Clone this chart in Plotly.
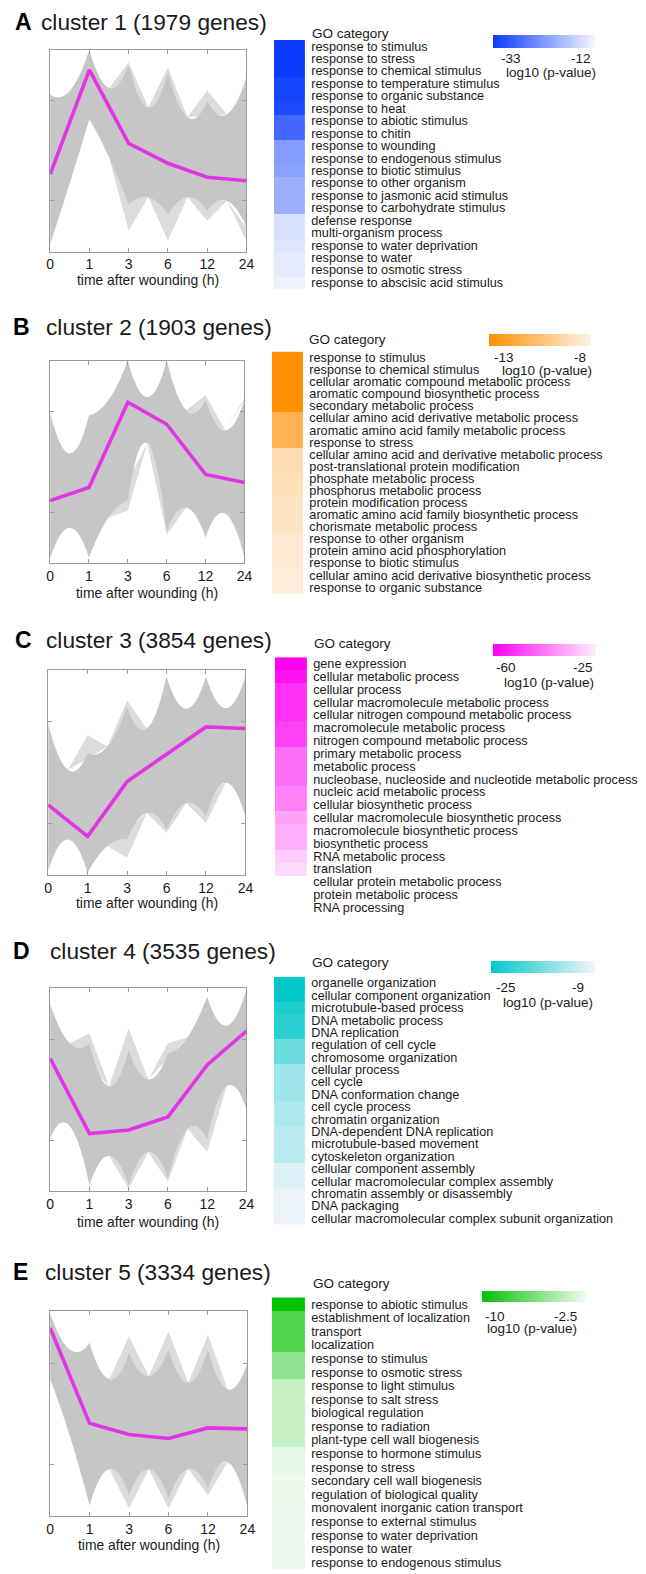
import plotly.graph_objects as go

W, H = 646, 1574
FONT = "Liberation Sans, Arial, Helvetica, sans-serif"

time_labels = ["0", "1", "3", "6", "12", "24"]

titles = ["cluster 1 (1979 genes)", "cluster 2 (1903 genes)", "cluster 3 (3854 genes)",
          "cluster 4 (3535 genes)", "cluster 5 (3334 genes)"]
letters = ["A", "B", "C", "D", "E"]

# mean expression profiles (magenta)
mean_1 = [-0.47, 1.62, 0.15, -0.25, -0.53, -0.60]
mean_2 = [-0.77, -0.51, 1.19, 0.75, -0.25, -0.41]
mean_3 = [-0.64, -1.26, -0.18, 0.36, 0.90, 0.87]
mean_4 = [0.62, -0.87, -0.80, -0.54, 0.49, 1.16]
mean_5 = [1.69, -0.19, -0.41, -0.49, -0.28, -0.30]

# dense envelope of gene profiles: edge at each time point and mid-way between time points
upper_1 = [1.13, 2.02, 1.73, 1.57, 1.00, 1.47]
upper_mid_1 = [1.20, 1.26, 0.87, 0.67, 0.73]
lower_1 = [-1.87, 0.63, -1.07, -1.27, -1.20, -1.53]
lower_mid_1 = [-0.65, -0.13, -0.93, -0.93, -1.00]

upper_2 = [0.99, 0.93, 2.02, 2.02, 1.23, 1.23]
upper_mid_2 = [0.17, 1.23, 1.29, 1.03, 0.63]
lower_2 = [-1.93, -1.91, -0.77, -1.37, -1.51, -1.91]
lower_mid_2 = [-1.31, -1.11, 0.37, -0.91, -1.03]

upper_3 = [0.96, 0.38, 1.29, 1.90, 1.90, 1.90]
upper_mid_3 = [0.05, 0.51, 0.87, 1.26, 1.27]
lower_3 = [-1.94, -1.98, -1.32, -1.13, -0.87, -0.87]
lower_mid_3 = [-1.32, -1.45, -0.80, -0.60, -0.20]

upper_4 = [1.70, 0.92, 0.78, 0.72, 1.84, 1.99]
upper_mid_4 = [0.92, 0.07, 0.20, 1.04, 1.27]
lower_4 = [-0.98, -1.90, -1.90, -1.76, -0.98, -0.39]
lower_mid_4 = [-0.72, -1.31, -1.24, -0.78, 0.07]

upper_5 = [1.98, 1.40, 1.20, 1.26, 1.26, 1.00]
upper_mid_5 = [1.26, 0.68, 0.74, 0.61, 0.48]
lower_5 = [0.68, -1.81, -1.61, -1.68, -1.48, -1.84]
lower_mid_5 = [-0.44, -1.09, -1.09, -1.09, -0.96]

# extremes reached by the sparse outlying profiles (light grey spikes)
upper_out_1 = [1.13, 2.02, 1.77, 1.67, 1.21, 1.50]
lower_out_1 = [-1.90, 0.63, -1.60, -1.80, -1.40, -1.80]
upper_out_2 = [0.99, 0.93, 2.02, 2.02, 1.33, 1.27]
lower_out_2 = [-1.93, -1.91, -0.97, -1.45, -1.53, -1.91]
upper_out_3 = [0.96, 0.74, 1.42, 1.90, 1.90, 1.90]
lower_out_3 = [-1.94, -1.98, -1.68, -1.19, -0.99, -0.87]
upper_out_4 = [1.70, 1.12, 1.21, 0.92, 1.84, 1.99]
lower_out_4 = [-0.98, -1.90, -1.96, -1.82, -1.24, -0.39]
upper_out_5 = [1.98, 1.40, 1.53, 1.62, 1.56, 1.00]
lower_out_5 = [0.68, -1.81, -1.87, -1.87, -1.61, -1.84]

# GO categories and log10(p-values)
go_1 = ["response to stimulus", "response to stress", "response to chemical stimulus",
        "response to temperature stimulus", "response to organic substance", "response to heat",
        "response to abiotic stimulus", "response to chitin", "response to wounding",
        "response to endogenous stimulus", "response to biotic stimulus", "response to other organism",
        "response to jasmonic acid stimulus", "response to carbohydrate stimulus", "defense response",
        "multi-organism process", "response to water deprivation", "response to water",
        "response to osmotic stress", "response to abscisic acid stimulus"]
p_1 = [-33, -33, -33, -32, -32, -31.5, -28, -28, -22, -22, -21.5, -20, -20, -20,
       -14.5, -14.5, -14, -13.3, -13.3, -12.5]

go_2 = ["response to stimulus", "response to chemical stimulus",
        "cellular aromatic compound metabolic process", "aromatic compound biosynthetic process",
        "secondary metabolic process", "cellular amino acid derivative metabolic process",
        "aromatic amino acid family metabolic process", "response to stress",
        "cellular amino acid and derivative metabolic process", "post-translational protein modification",
        "phosphate metabolic process", "phosphorus metabolic process", "protein modification process",
        "aromatic amino acid family biosynthetic process", "chorismate metabolic process",
        "response to other organism", "protein amino acid phosphorylation", "response to biotic stimulus",
        "cellular amino acid derivative biosynthetic process", "response to organic substance"]
p_2 = [-13, -13, -13, -13, -13, -11.3, -11.3, -11.3, -9.2, -9.2, -9.0, -9.0, -8.8, -8.8, -8.8,
       -8.5, -8.5, -8.5, -8.3, -8.3]

go_3 = ["gene expression", "cellular metabolic process", "cellular process",
        "cellular macromolecule metabolic process", "cellular nitrogen compound metabolic process",
        "macromolecule metabolic process", "nitrogen compound metabolic process",
        "primary metabolic process", "metabolic process",
        "nucleobase, nucleoside and nucleotide metabolic process", "nucleic acid metabolic process",
        "cellular biosynthetic process", "cellular macromolecule biosynthetic process",
        "macromolecule biosynthetic process", "biosynthetic process", "RNA metabolic process",
        "translation", "cellular protein metabolic process", "protein metabolic process",
        "RNA processing"]
p_3 = [-60, -57.5, -53, -53, -53, -50.5, -50.5, -44, -44, -44, -41, -41, -36, -34, -34,
       -30, -28, None, None, None]

go_4 = ["organelle organization", "cellular component organization", "microtubule-based process",
        "DNA metabolic process", "DNA replication", "regulation of cell cycle", "chromosome organization",
        "cellular process", "cell cycle", "DNA conformation change", "cell cycle process",
        "chromatin organization", "DNA-dependent DNA replication", "microtubule-based movement",
        "cytoskeleton organization", "cellular component assembly",
        "cellular macromolecular complex assembly", "chromatin assembly or disassembly",
        "DNA packaging", "cellular macromolecular complex subunit organization"]
p_4 = [-25, -25, -23, -22, -22, -18, -18, -14.6, -14.6, -14.6, -13.5, -13.5, -12.8, -12.8, -12.8,
       -10.4, -10.4, -9.5, -9.5, -9.3]

go_5 = ["response to abiotic stimulus", "establishment of localization", "transport", "localization",
        "response to stimulus", "response to osmotic stress", "response to light stimulus",
        "response to salt stress", "biological regulation", "response to radiation",
        "plant-type cell wall biogenesis", "response to hormone stimulus", "response to stress",
        "secondary cell wall biogenesis", "regulation of biological quality",
        "monovalent inorganic cation transport", "response to external stimulus",
        "response to water deprivation", "response to water", "response to endogenous stimulus"]
p_5 = [-10, -7.6, -7.6, -7.6, -5.6, -5.6, -3.9, -3.9, -3.9, -3.9, -3.9, -2.9, -2.9, -2.7, -2.7,
       -2.7, -2.6, -2.6, -2.6, -2.6]

p_ranges = [(-33, -12), (-13, -8), (-60, -25), (-25, -9), (-10, -2.5)]
p_range_labels = [("-33", "-12"), ("-13", "-8"), ("-60", "-25"), ("-25", "-9"), ("-10", "-2.5")]
full_colors = ["#0a3cff", "#ff9100", "#ff00f0", "#00c8c8", "#00c300"]
pale_colors = ["#f4f6ff", "#fdf3e8", "#fdeefd", "#f1f5fb", "#f2faf2"]

means = [mean_1, mean_2, mean_3, mean_4, mean_5]
uppers = [upper_1, upper_2, upper_3, upper_4, upper_5]
upper_mids = [upper_mid_1, upper_mid_2, upper_mid_3, upper_mid_4, upper_mid_5]
lowers = [lower_1, lower_2, lower_3, lower_4, lower_5]
lower_mids = [lower_mid_1, lower_mid_2, lower_mid_3, lower_mid_4, lower_mid_5]
upper_outs = [upper_out_1, upper_out_2, upper_out_3, upper_out_4, upper_out_5]
lower_outs = [lower_out_1, lower_out_2, lower_out_3, lower_out_4, lower_out_5]
gos = [go_1, go_2, go_3, go_4, go_5]
ps = [p_1, p_2, p_3, p_4, p_5]

# ---------- layout geometry (page pixels) ----------
plot_box = [(47, 247, 49, 251), (47, 245, 360, 563), (45, 246, 670, 875),
            (47, 247, 988, 1192), (47, 248, 1312, 1517)]
heat_box = [(275, 307, 39, 288), (273, 305, 351, 593), (276, 309, 657, 914),
            (275, 307, 977, 1225), (273, 307, 1298, 1570)]
title_y = [21, 326, 640, 951, 1273]
title_x = [36, 41, 41, 45, 40]
letter_x = [9, 7, 9, 7, 7]
xtitle_y = [279, 593, 903, 1223, 1546]
go_title = [(312, 33), (309, 339), (314, 643), (312, 963), (313, 1284)]
cbar_box = [(498, 602, 34, 47), (494, 598, 333, 345), (498, 603, 644, 656),
            (496, 602, 961, 973), (487, 593, 1292, 1303)]
cbar_lab = [(517, 588, 58, 557, 72), (509, 587, 357, 553, 370), (512, 590, 667, 555, 682),
            (512, 585, 988, 554, 1003), (500, 572, 1317, 538, 1329)]


def px(x):
    return x / W


def py(y):
    return 1 - y / H


xs = list(range(len(time_labels)))


def band_path(up, upm, lo, lom):
    path = f"M {xs[0]},{up[0]}"
    for i in range(len(xs) - 1):
        xm = (xs[i] + xs[i + 1]) / 2
        c = 2 * upm[i] - (up[i] + up[i + 1]) / 2
        path += f" Q {xm},{c} {xs[i + 1]},{up[i + 1]}"
    path += f" L {xs[-1]},{lo[-1]}"
    for i in range(len(xs) - 1, 0, -1):
        xm = (xs[i] + xs[i - 1]) / 2
        c = 2 * lom[i - 1] - (lo[i] + lo[i - 1]) / 2
        path += f" Q {xm},{c} {xs[i - 1]},{lo[i - 1]}"
    return path + " Z"


def spike_paths(out, solid, mid):
    paths = []
    n = len(xs)
    for i in range(n):
        if abs(out[i] - solid[i]) < 0.04:
            continue
        if i > 0:
            left = f"{(xs[i - 1] + xs[i]) / 2},{mid[i - 1]}"
        else:
            left = f"{xs[0]},{solid[0]}"
        if i < n - 1:
            right = f"{(xs[i] + xs[i + 1]) / 2},{mid[i]}"
        else:
            right = f"{xs[-1]},{solid[-1]}"
        paths.append(f"M {left} L {xs[i]},{out[i]} L {right} Z")
    return paths


fig = go.Figure()
shapes = []
annotations = []
layout_axes = {}
FRAME = "#9a9a9a"
TXT = "#1a1a1a"

for k in range(5):
    a_line = 2 * k + 1
    a_heat = 2 * k + 2
    xn_l = "x" if a_line == 1 else f"x{a_line}"
    yn_l = "y" if a_line == 1 else f"y{a_line}"
    xn_h = f"x{a_heat}"
    yn_h = f"y{a_heat}"
    x0, x1, y0, y1 = plot_box[k]
    layout_axes[f"xaxis{'' if a_line == 1 else a_line}"] = dict(
        domain=[px(x0), px(x1)], anchor=yn_l, range=[0, 5],
        tickvals=xs, ticktext=time_labels, ticks="inside", ticklen=4, tickcolor=FRAME,
        showline=True, linecolor=FRAME, linewidth=1, mirror="ticks", showgrid=False,
        zeroline=False, tickfont=dict(size=14, color=TXT, family=FONT), fixedrange=True)
    layout_axes[f"yaxis{'' if a_line == 1 else a_line}"] = dict(
        domain=[py(y1), py(y0)], anchor=xn_l, range=[-2.02, 2.02],
        tickvals=[-1, 1], showticklabels=False, ticks="inside", ticklen=4, tickcolor=FRAME,
        showline=True, linecolor=FRAME, linewidth=1, mirror="ticks", showgrid=False,
        zeroline=False, fixedrange=True)

    for pth in (spike_paths(upper_outs[k], uppers[k], upper_mids[k])
                + spike_paths(lower_outs[k], lowers[k], lower_mids[k])):
        shapes.append(dict(type="path", xref=xn_l, yref=yn_l, path=pth,
                           fillcolor="#dcdcdc", line=dict(width=0), layer="below"))
    shapes.append(dict(type="path", xref=xn_l, yref=yn_l,
                       path=band_path(uppers[k], upper_mids[k], lowers[k], lower_mids[k]),
                       fillcolor="#c6c6c6", line=dict(width=0), layer="below"))

    fig.add_trace(go.Scatter(x=xs, y=means[k], mode="lines", xaxis=xn_l, yaxis=yn_l,
                             line=dict(color="#e236e6", width=3.6), showlegend=False,
                             hoverinfo="skip"))

    hx0, hx1, hy0, hy1 = heat_box[k]
    layout_axes[f"xaxis{a_heat}"] = dict(domain=[px(hx0), px(hx1)], anchor=yn_h,
                                          visible=False, fixedrange=True)
    layout_axes[f"yaxis{a_heat}"] = dict(domain=[py(hy1), py(hy0)], anchor=xn_h,
                                          autorange="reversed", side="right",
                                          tickmode="array", tickvals=gos[k], ticktext=gos[k],
                                          ticks="", showline=False, showgrid=False,
                                          ticklabelstandoff=5,
                                          tickfont=dict(size=12.7, color=TXT, family=FONT),
                                          type="category", fixedrange=True)
    zmin, zmax = p_ranges[k]
    cx0, cx1, cy0, cy1 = cbar_box[k]
    fig.add_trace(go.Heatmap(
        z=[[v] for v in ps[k]], y=gos[k], x=[0], xaxis=xn_h, yaxis=yn_h,
        zmin=zmin, zmax=zmax,
        colorscale=[[0, full_colors[k]], [1, pale_colors[k]]],
        showscale=True, hoverinfo="skip",
        colorbar=dict(orientation="h", x=px((cx0 + cx1) / 2), xanchor="center",
                      y=py(cy0), yanchor="top", len=(cx1 - cx0) / W, lenmode="fraction",
                      thickness=cy1 - cy0, thicknessmode="pixels", xpad=0, ypad=0,
                      outlinewidth=0, showticklabels=False, ticks="")))

    # text
    annotations.append(dict(text=f"<b>{letters[k]}</b>", x=px(letter_x[k]), y=py(title_y[k]),
                            xref="paper", yref="paper", xanchor="left", yanchor="middle",
                            showarrow=False, font=dict(size=23, color="#000", family=FONT)))
    annotations.append(dict(text=titles[k], x=px(title_x[k]), y=py(title_y[k]),
                            xref="paper", yref="paper", xanchor="left", yanchor="middle",
                            showarrow=False, font=dict(size=22.7, color=TXT, family=FONT)))
    annotations.append(dict(text="time after wounding (h)", x=px((x0 + x1) / 2), y=py(xtitle_y[k]),
                            xref="paper", yref="paper", xanchor="center", yanchor="middle",
                            showarrow=False, font=dict(size=13.9, color=TXT, family=FONT)))
    gx, gy = go_title[k]
    annotations.append(dict(text="GO category", x=px(gx), y=py(gy), xref="paper", yref="paper",
                            xanchor="left", yanchor="middle", showarrow=False,
                            font=dict(size=13.5, color=TXT, family=FONT)))
    lx0, lx1, ly, tx, ty = cbar_lab[k]
    lo_lab, hi_lab = p_range_labels[k]
    for tx_, t_ in ((lx0, lo_lab), (lx1, hi_lab)):
        annotations.append(dict(text=t_, x=px(tx_), y=py(ly), xref="paper", yref="paper",
                                xanchor="center", yanchor="middle", showarrow=False,
                                font=dict(size=13.5, color=TXT, family=FONT)))
    annotations.append(dict(text="log10 (p-value)", x=px(tx), y=py(ty), xref="paper",
                            yref="paper", xanchor="center", yanchor="middle", showarrow=False,
                            font=dict(size=13.5, color=TXT, family=FONT)))

fig.update_layout(width=W, height=H, margin=dict(l=0, r=0, t=0, b=0),
                  paper_bgcolor="white", plot_bgcolor="rgba(0,0,0,0)",
                  shapes=shapes, annotations=annotations, showlegend=False,
                  hovermode=False,
                  font=dict(family=FONT, color=TXT), **layout_axes)

fig.write_html("out.html", config={"displayModeBar": False, "staticPlot": True},
               post_script="document.body.style.margin='0';"
                           "document.documentElement.style.overflow='hidden';")
